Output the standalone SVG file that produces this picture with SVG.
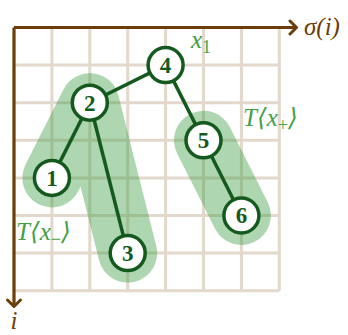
<svg xmlns="http://www.w3.org/2000/svg" width="348" height="335" viewBox="0 0 348 335">
<defs>
<style>
.grid{stroke:#e2d8cb;stroke-width:3;fill:none}
.blob{stroke:#3f9e45;stroke-opacity:0.42;stroke-width:59;stroke-linecap:round;stroke-linejoin:round;fill:none}
.axis{stroke:#6b3d08;stroke-width:3.2;fill:none}
.edge{stroke:#145a1f;stroke-width:3.5;fill:none}
.node circle{fill:#fff;stroke:#145a1f;stroke-width:3.5}
.node text{font-weight:bold;font-size:23px;fill:#145a1f;text-anchor:middle}
.lab{font-style:italic;font-size:25px;fill:#43a047}
.alab{font-style:italic;font-size:25px;fill:#6b3d08}
</style>
<marker id="arr" viewBox="-9 -9 12 18" markerWidth="12" markerHeight="18" refX="0" refY="0" orient="auto" markerUnits="userSpaceOnUse">
<path d="M -6 -6.5 L 0.5 0 L -6 6.5" fill="none" stroke="#6b3d08" stroke-width="3" stroke-linecap="round" stroke-linejoin="round"/>
</marker>
</defs>
<g id="grid">
<path class="grid" d="M51.9 27.5V290.7M89.8 27.5V290.7M127.7 27.5V290.7M165.6 27.5V290.7M203.5 27.5V290.7M241.4 27.5V290.7M279.3 27.5V290.7"/>
<path class="grid" d="M14 65.1H279.3M14 102.7H279.3M14 140.3H279.3M14 177.9H279.3M14 215.5H279.3M14 253.1H279.3M14 290.7H279.3"/>
</g>
<g id="blobs">
<path class="blob" d="M51.9 177.9L89.8 102.7L127.7 253.1"/>
<path class="blob" d="M203.5 140.3L241.4 215.5"/>
</g>
<g id="axes">
<path class="axis" d="M14 27.5H296" marker-end="url(#arr)"/>
<path class="axis" d="M14 27.5V306" marker-end="url(#arr)"/>
<text class="alab" font-family="'Liberation Serif', 'DejaVu Serif', serif" x="304" y="35">σ(i)</text>
<text class="alab" font-family="'Liberation Serif', 'DejaVu Serif', serif" x="14" y="329" text-anchor="middle">i</text>
</g>
<g id="connectors">
<path class="edge" d="M165.6 65.1L89.8 102.7"/>
<path class="edge" d="M89.8 102.7L51.9 177.9"/>
<path class="edge" d="M89.8 102.7L127.7 253.1"/>
<path class="edge" d="M165.6 65.1L203.5 140.3"/>
<path class="edge" d="M203.5 140.3L241.4 215.5"/>
</g>
<g font-family="'Liberation Serif', 'DejaVu Serif', serif">
<g id="n4" class="node"><circle cx="165.6" cy="65.1" r="17.5"/><text x="165.6" y="73">4</text></g>
<g id="n2" class="node"><circle cx="89.8" cy="102.7" r="17.5"/><text x="89.8" y="110.6">2</text></g>
<g id="n1" class="node"><circle cx="51.9" cy="177.9" r="17.5"/><text x="51.9" y="185.8">1</text></g>
<g id="n3" class="node"><circle cx="127.7" cy="253.1" r="17.5"/><text x="127.7" y="261">3</text></g>
<g id="n5" class="node"><circle cx="203.5" cy="140.3" r="17.5"/><text x="203.5" y="148.2">5</text></g>
<g id="n6" class="node"><circle cx="241.4" cy="215.5" r="17.5"/><text x="241.4" y="223.4">6</text></g>
</g>
<g id="labels" font-family="'Liberation Serif', 'DejaVu Serif', serif">
<text class="lab" x="191" y="48">x<tspan font-style="normal" font-size="18" dy="5">1</tspan></text>
<text class="lab" x="243" y="126">T⟨x<tspan font-style="normal" font-size="18" dy="5">+</tspan><tspan dy="-5">⟩</tspan></text>
<text class="lab" x="16" y="240">T⟨x<tspan font-style="normal" font-size="18" dy="5">−</tspan><tspan dy="-5">⟩</tspan></text>
</g>
</svg>
